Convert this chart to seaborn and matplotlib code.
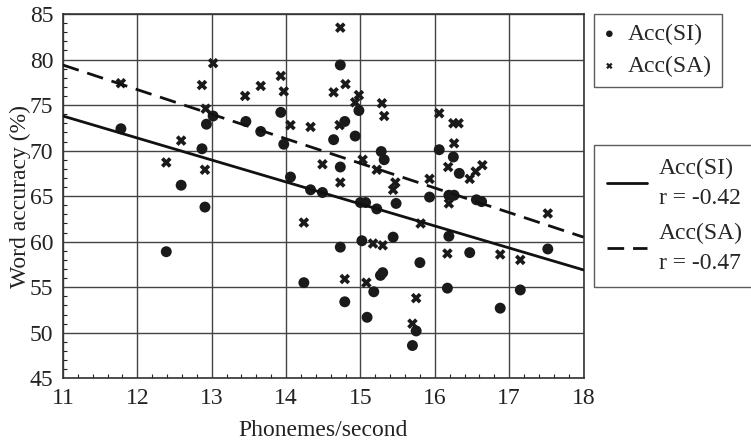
import numpy as np
import pandas as pd
import matplotlib
matplotlib.use("Agg")
import matplotlib.pyplot as plt
from matplotlib.ticker import MultipleLocator
import seaborn as sns

# Acc(SI) points (phonemes/second, word accuracy %)
si_rate = [11.78, 12.39, 12.59, 12.87, 12.91, 12.93, 13.02, 13.46, 13.66, 13.93,
           13.97, 14.06, 14.24, 14.33, 14.49, 14.64, 14.73, 14.73, 14.73, 14.79,
           14.79, 14.93, 14.98, 15.00, 15.07, 15.02, 15.09, 15.18, 15.22, 15.27,
           15.30, 15.28, 15.32, 15.44, 15.48, 15.70, 15.75, 15.80, 15.93, 16.06,
           16.17, 16.19, 16.19, 16.26, 16.25, 16.33, 16.47, 16.56, 16.63, 16.88,
           17.15, 17.52]
si_acc = [72.4, 58.9, 66.2, 70.2, 63.8, 72.9, 73.8, 73.2, 72.1, 74.2,
          70.7, 67.1, 55.5, 65.7, 65.4, 71.2, 79.4, 68.2, 59.4, 73.2,
          53.4, 71.6, 74.4, 64.3, 64.3, 60.1, 51.7, 54.5, 63.6, 56.3,
          56.6, 69.9, 69.0, 60.5, 64.2, 48.6, 50.2, 57.7, 64.9, 70.1,
          54.9, 60.6, 65.1, 65.1, 69.3, 67.5, 58.8, 64.6, 64.4, 52.7,
          54.7, 59.2]

# Acc(SA) points
sa_rate = [11.78, 12.39, 12.59, 12.87, 12.91, 12.92, 13.02, 13.45, 13.66, 13.93,
           13.97, 14.06, 14.24, 14.33, 14.49, 14.64, 14.72, 14.73, 14.73, 14.79,
           14.80, 14.93, 14.98, 15.03, 15.08, 15.17, 15.22, 15.29, 15.30, 15.32,
           15.44, 15.47, 15.70, 15.75, 15.81, 15.93, 16.06, 16.17, 16.18, 16.19,
           16.25, 16.26, 16.32, 16.47, 16.55, 16.64, 16.88, 17.15, 17.52]
sa_acc = [77.4, 68.7, 71.1, 77.2, 67.9, 74.6, 79.6, 76.0, 77.1, 78.2,
          76.5, 72.8, 62.1, 72.6, 68.5, 76.4, 72.8, 83.5, 66.5, 55.9,
          77.3, 75.3, 76.1, 69.0, 55.5, 59.8, 67.9, 75.2, 59.6, 73.8,
          65.7, 66.5, 51.0, 53.8, 62.0, 66.9, 74.1, 58.7, 68.2, 64.2,
          73.0, 70.8, 73.0, 66.9, 67.7, 68.4, 58.6, 58.0, 63.1]

# regression lines read at the axis ends
fit_rate = [11, 18]
si_fit = [73.8, 56.9]
sa_fit = [79.4, 60.5]

si_label = "Acc(SI)"
sa_label = "Acc(SA)"
si_fit_label = "Acc(SI)\nr = -0.42"
sa_fit_label = "Acc(SA)\nr = -0.47"

sns.set_style("ticks")
plt.rcParams["font.family"] = "serif"
plt.rcParams["font.serif"] = ["Liberation Serif", "TeX Gyre Termes", "DejaVu Serif"]

fig = plt.figure(figsize=(7.51, 4.4), dpi=100)
ax = fig.add_axes([62.9 / 751, 1 - 378.3 / 440, (583.5 - 62.9) / 751, (378.3 - 14) / 440])

sns.scatterplot(x=si_rate, y=si_acc, marker="o", color="#1a1a1a", s=62,
                edgecolor="none", label=si_label, ax=ax, zorder=3)
sns.scatterplot(x=sa_rate, y=sa_acc, marker="X", color="#1a1a1a", s=58,
                edgecolor="none", label=sa_label, ax=ax, zorder=3)
sns.lineplot(x=fit_rate, y=si_fit, color="#111111", lw=2.0, label=si_fit_label,
             ax=ax, zorder=4)
sns.lineplot(x=fit_rate, y=sa_fit, color="#111111", lw=2.0, ls=(0, (6, 3.2)),
             label=sa_fit_label, ax=ax, zorder=4)

ax.set_xlim(11, 18)
ax.set_ylim(45, 85)
ax.xaxis.set_major_locator(MultipleLocator(1))
ax.xaxis.set_minor_locator(MultipleLocator(0.2))
ax.yaxis.set_major_locator(MultipleLocator(5))
ax.yaxis.set_minor_locator(MultipleLocator(1))
ax.tick_params(which="both", direction="in", colors="#222222", labelsize=17,
               labelcolor="#222222")
ax.tick_params(which="major", length=0, pad=7)
ax.tick_params(which="minor", length=3, width=0.8)
ax.grid(which="major", color="#444444", lw=1.0)
for sp in ax.spines.values():
    sp.set_color("#333333")
    sp.set_linewidth(1.2)

ax.set_xlabel("Phonemes/second", fontsize=17, color="#222222", labelpad=8)
ax.set_ylabel("Word accuracy (%)", fontsize=17, color="#222222", labelpad=-1)

handles, labels = ax.get_legend_handles_labels()
ax.get_legend().remove()

leg1 = fig.legend(handles[:2], labels[:2], loc="upper left",
                  bbox_to_anchor=(594 / 751, 1 - 14 / 440), fontsize=17,
                  frameon=True, fancybox=False, edgecolor="#333333",
                  markerscale=0.6, handlelength=0.5, handletextpad=0.55,
                  borderpad=0.4, labelspacing=0.45, borderaxespad=0)
leg1.get_frame().set_linewidth(1.0)

leg2 = fig.legend(handles[2:], labels[2:], loc="upper left",
                  bbox_to_anchor=(594 / 751, 0.2, 0.24, 1 - 145 / 440 - 0.2),
                  mode="expand", fontsize=17, frameon=True, fancybox=False,
                  edgecolor="#333333", handlelength=1.7, handletextpad=0.5,
                  borderpad=0.55, labelspacing=0.6, borderaxespad=0)
leg2.get_frame().set_linewidth(1.0)
for t in leg2.get_texts():
    t.set_linespacing(1.55)

fig.savefig("out.png", dpi=100)
